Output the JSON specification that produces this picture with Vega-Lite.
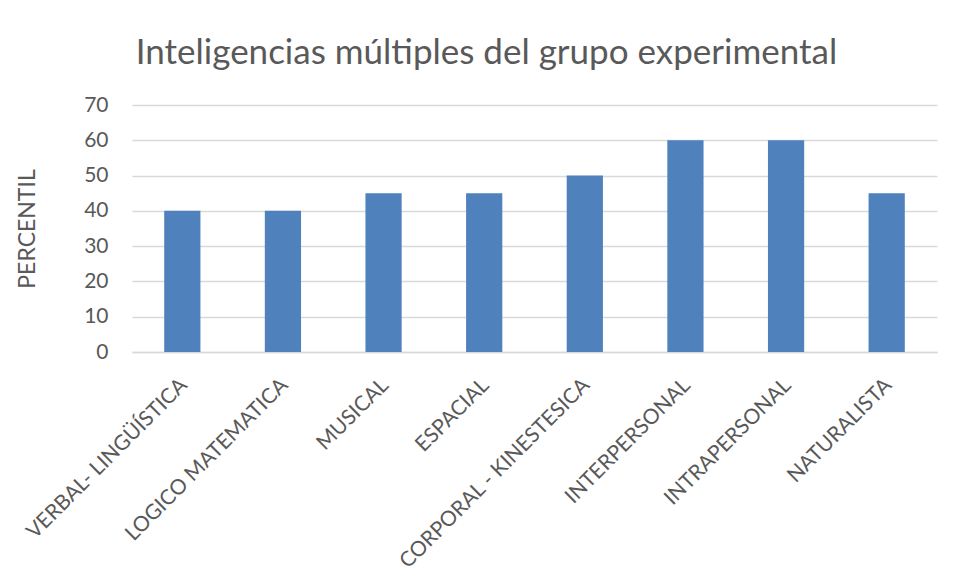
{
  "$schema": "https://vega.github.io/schema/vega-lite/v6.json",
  "autosize": "none",
  "width": 805,
  "height": 247,
  "padding": {"left": 132, "top": 105, "right": 22, "bottom": 226},
  "background": "white",
  "config": {
    "view": {"stroke": null},
    "font": "Lato",
    "axis": {"labelColor": "#595959", "titleColor": "#595959", "labelFont": "Lato", "titleFont": "Lato"}
  },
  "title": {
    "text": "Inteligencias múltiples del grupo experimental",
    "fontSize": 35,
    "font": "Lato",
    "fontWeight": "normal",
    "color": "#595959",
    "anchor": "middle",
    "dx": -48,
    "offset": 23
  },
  "data": {
    "values": [
      {"cat": "VERBAL- LINGÜÍSTICA", "v": 40},
      {"cat": "LOGICO MATEMATICA", "v": 40},
      {"cat": "MUSICAL", "v": 45},
      {"cat": "ESPACIAL", "v": 45},
      {"cat": "CORPORAL - KINESTESICA", "v": 50},
      {"cat": "INTERPERSONAL", "v": 60},
      {"cat": "INTRAPERSONAL", "v": 60},
      {"cat": "NATURALISTA", "v": 45}
    ]
  },
  "mark": {"type": "bar", "color": "#4f81bd"},
  "encoding": {
    "x": {
      "field": "cat", "type": "nominal", "sort": null,
      "scale": {"paddingInner": 0.64, "paddingOuter": 0.32},
      "axis": {
        "title": null, "labelAngle": -45, "labelFontSize": 21, "ticks": false,
        "domainColor": "#d9d9d9", "domainWidth": 1.5, "labelPadding": 22, "labelOffset": -6, "labelLimit": 400
      }
    },
    "y": {
      "field": "v", "type": "quantitative",
      "scale": {"domain": [0, 70]},
      "axis": {
        "title": "PERCENTIL", "titleFontSize": 23, "titleFontWeight": "normal", "titlePadding": 44,
        "values": [0, 10, 20, 30, 40, 50, 60, 70], "labelFontSize": 21, "labelPadding": 24,
        "domain": false, "ticks": false, "gridColor": "#d9d9d9", "gridWidth": 1.5
      }
    }
  }
}
